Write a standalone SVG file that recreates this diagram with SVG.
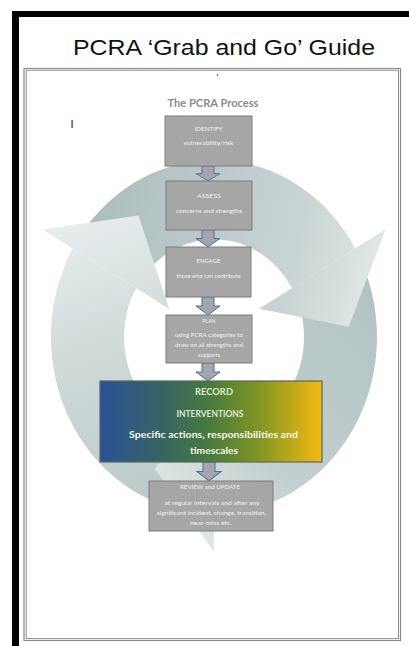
<svg xmlns="http://www.w3.org/2000/svg" width="409" height="646" viewBox="0 0 409 646">
  <defs>
    <!-- cycle ring gradients, defined in the ring's own (unscaled circle) space -->
    <linearGradient id="ringA" gradientUnits="userSpaceOnUse" x1="-140" y1="-100" x2="170" y2="-30">
      <stop offset="0" stop-color="#a9bcba"/>
      <stop offset="0.7" stop-color="#c9d5d4"/>
      <stop offset="1" stop-color="#e4eaea"/>
    </linearGradient>
    <linearGradient id="ringB" gradientUnits="userSpaceOnUse" x1="160" y1="-50" x2="-40" y2="175">
      <stop offset="0" stop-color="#b1c3c1"/>
      <stop offset="0.65" stop-color="#c3d0cf"/>
      <stop offset="1" stop-color="#e4eaea"/>
    </linearGradient>
    <linearGradient id="ringC" gradientUnits="userSpaceOnUse" x1="-10" y1="170" x2="-110" y2="-115">
      <stop offset="0" stop-color="#b7c7c5"/>
      <stop offset="0.6" stop-color="#cfdad9"/>
      <stop offset="1" stop-color="#e7eced"/>
    </linearGradient>
    <linearGradient id="recordFill" x1="0" y1="0" x2="1" y2="0">
      <stop offset="0" stop-color="#2c5196"/>
      <stop offset="0.3" stop-color="#37665f"/>
      <stop offset="0.5" stop-color="#4a7b3c"/>
      <stop offset="0.72" stop-color="#819624"/>
      <stop offset="0.88" stop-color="#c4ab18"/>
      <stop offset="1" stop-color="#f4bb14"/>
    </linearGradient>
    <!-- down arrow between steps; origin at top-centre, 24 wide -->
    <path id="downArrow" d="M-6 0 H6 V9 H12 L0 18 L-12 9 H-6 Z"/>
  </defs>
  <style>
    .step { fill: #a6a6a6; stroke: #7d7d7d; stroke-width: 1; }
    .stepText { font-family: Lato, "Open Sans", sans-serif; font-size: 5.6px; fill: #f2f2f2; text-anchor: middle; }
    .recText { font-family: Lato, "Open Sans", sans-serif; font-weight: bold; text-anchor: middle; }
    .flow { fill: #a4a5ae; stroke: #4c6d9b; stroke-width: 1; }
  </style>

  <rect width="409" height="646" fill="#ffffff"/>

  <!-- page frame -->
  <rect x="12" y="11" width="7" height="635" fill="#000000"/>
  <rect x="12" y="11" width="397" height="6" fill="#000000"/>

  <text x="224" y="55" font-family="Liberation Sans, Arial, sans-serif" font-size="22" fill="#111111" text-anchor="middle" textLength="302" lengthAdjust="spacingAndGlyphs">PCRA ‘Grab and Go’ Guide</text>

  <!-- inner document sheet with double rule -->
  <rect x="24" y="68.5" width="376.5" height="572" fill="none" stroke="#8a8a8a" stroke-width="1.2"/>
  <rect x="26.2" y="70.3" width="372.3" height="568.3" fill="none" stroke="#8f8f8f" stroke-width="1"/>

  <circle cx="217.5" cy="75" r="0.8" fill="#333333"/>
  <text x="70.5" y="128" font-family="Liberation Sans, Arial, sans-serif" font-size="11" fill="#222222">I</text>

  <text x="213" y="107" font-family="Lato, 'Open Sans', sans-serif" font-size="10.5" font-weight="bold" fill="#8c8c8c" text-anchor="middle" textLength="91" lengthAdjust="spacingAndGlyphs">The PCRA Process</text>

  <!-- cycle ring: three curved arrows, shafts first, heads on top -->
  <g id="cycle" transform="translate(214 337) scale(1 1.0859)">
    <path fill="url(#ringA)" d="M-133.5 -93.5 A163 163 0 0 1 141.2 -81.5 L77.9 -45 A90 90 0 0 0 -73.7 -51.6 Z"/>
    <path fill="url(#ringB)" d="M147.7 -68.9 A163 163 0 0 1 0 163 L0 90 A90 90 0 0 0 81.6 -38 Z"/>
    <path fill="url(#ringC)" d="M-14.2 162.4 A163 163 0 0 1 -141.2 -81.5 L-77.9 -45 A90 90 0 0 0 -7.8 89.7 Z"/>
    <path fill="url(#ringA)" d="M171.5 -99 L134.7 -9.4 L45 -26 Z"/>
    <path fill="url(#ringB)" d="M0 198 L-59.2 121.3 L0 52 Z"/>
    <path fill="url(#ringC)" d="M-171.5 -99 L-75.5 -111.9 L-45 -26 Z"/>
  </g>

  <!-- flow arrows between steps -->
  <g id="connectors">
    <use href="#downArrow" class="flow" transform="translate(208 166) scale(1 0.83)"/>
    <use href="#downArrow" class="flow" transform="translate(208 230) scale(1 0.94)"/>
    <use href="#downArrow" class="flow" transform="translate(208 297) scale(1 1)"/>
    <use href="#downArrow" class="flow" transform="translate(208 363) scale(1 1)"/>
    <use href="#downArrow" class="flow" transform="translate(209 462) scale(1 1.05)"/>
  </g>

  <g id="identify">
    <rect class="step" x="165" y="116" width="87" height="50"/>
    <text class="stepText" x="208.5" y="131" textLength="28" lengthAdjust="spacingAndGlyphs">IDENTIFY</text>
    <text class="stepText" x="208.5" y="145" textLength="50" lengthAdjust="spacingAndGlyphs">vulnerability/risk</text>
  </g>

  <g id="assess">
    <rect class="step" x="166" y="181" width="86" height="49"/>
    <text class="stepText" x="209" y="198" textLength="24" lengthAdjust="spacingAndGlyphs">ASSESS</text>
    <text class="stepText" x="209" y="213" textLength="66" lengthAdjust="spacingAndGlyphs">concerns and strengths</text>
  </g>

  <g id="engage">
    <rect class="step" x="166" y="247" width="85" height="50"/>
    <text class="stepText" x="208.5" y="263" textLength="24" lengthAdjust="spacingAndGlyphs">ENGAGE</text>
    <text class="stepText" x="208.5" y="278" textLength="64" lengthAdjust="spacingAndGlyphs">those who can contribute</text>
  </g>

  <g id="plan">
    <rect class="step" x="166" y="315" width="86" height="48"/>
    <text class="stepText" x="209" y="323" textLength="13" lengthAdjust="spacingAndGlyphs">PLAN</text>
    <text class="stepText" x="209" y="337" textLength="68" lengthAdjust="spacingAndGlyphs">using PCRA categories to</text>
    <text class="stepText" x="209" y="347" textLength="68" lengthAdjust="spacingAndGlyphs">draw on all strengths and</text>
    <text class="stepText" x="209" y="357" textLength="22" lengthAdjust="spacingAndGlyphs">supports</text>
  </g>

  <g id="record">
    <rect x="100" y="381" width="222" height="81" fill="url(#recordFill)" stroke="#5e6656" stroke-width="1.2"/>
    <text class="recText" x="214" y="394.5" font-size="9.5" fill="#dfe8d2" textLength="38" lengthAdjust="spacingAndGlyphs">RECORD</text>
    <text class="recText" x="210" y="416.5" font-size="9.5" fill="#dfe8d2" textLength="67" lengthAdjust="spacingAndGlyphs">INTERVENTIONS</text>
    <text class="recText" x="213.5" y="438" font-size="10" fill="#f5f6ea" textLength="169" lengthAdjust="spacingAndGlyphs">Specific actions, responsibilities and</text>
    <text class="recText" x="214" y="454" font-size="10" fill="#f5f6ea" textLength="48" lengthAdjust="spacingAndGlyphs">timescales</text>
  </g>

  <g id="review">
    <rect class="step" x="149" y="481" width="124" height="50"/>
    <text class="stepText" x="210" y="489" textLength="60" lengthAdjust="spacingAndGlyphs">REVIEW and UPDATE</text>
    <text class="stepText" x="212" y="505" textLength="95" lengthAdjust="spacingAndGlyphs">at regular intervals and after any</text>
    <text class="stepText" x="211.5" y="515" textLength="109" lengthAdjust="spacingAndGlyphs">significant incident, change, transition,</text>
    <text class="stepText" x="211" y="525" textLength="42" lengthAdjust="spacingAndGlyphs">near-miss etc.</text>
  </g>
</svg>
